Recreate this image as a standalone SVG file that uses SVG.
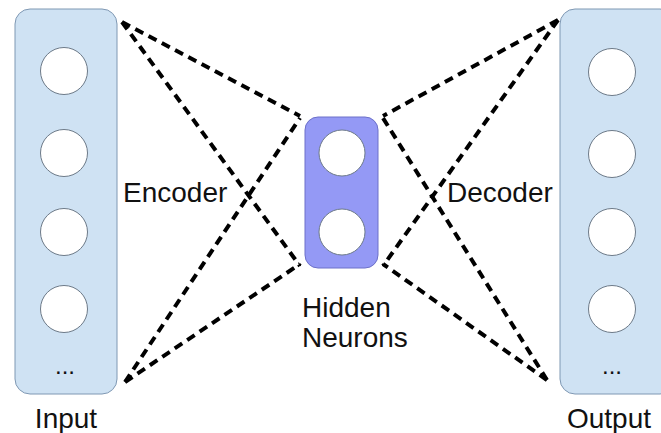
<svg xmlns="http://www.w3.org/2000/svg" width="661" height="433" viewBox="0 0 661 433">
<style>
.layer{fill:#cfe2f3;stroke:#7f98b3;stroke-width:1}
.hid{fill:#9499f5;stroke:#6c70c9;stroke-width:1}
.neuron{fill:#ffffff;stroke:#6d7a88;stroke-width:1}
.conn{fill:none;stroke:#000;stroke-width:4;stroke-dasharray:9 6}
text{font-family:"Liberation Sans",Arial,sans-serif;font-size:28px;fill:#111}
</style>
<rect width="661" height="433" fill="#fff"/>
<g id="connectors">
<line class="conn" x1="122" y1="22" x2="300" y2="116"/>
<line class="conn" x1="122" y1="22" x2="300" y2="266"/>
<line class="conn" x1="125" y1="382" x2="300" y2="118"/>
<line class="conn" x1="125" y1="382" x2="300" y2="264"/>
<line class="conn" x1="558" y1="20" x2="383" y2="116"/>
<line class="conn" x1="558" y1="20" x2="383" y2="266"/>
<line class="conn" x1="547" y1="380" x2="383" y2="118"/>
<line class="conn" x1="547" y1="380" x2="383" y2="264"/>
</g>
<g id="input">
<rect class="layer" x="15" y="9" width="102" height="385" rx="15"/>
<circle class="neuron" cx="64" cy="71" r="23.5"/>
<circle class="neuron" cx="64" cy="153" r="23.5"/>
<circle class="neuron" cx="64" cy="232" r="23.5"/>
<circle class="neuron" cx="64" cy="309" r="23.5"/>
<text x="65" y="374" text-anchor="middle" style="font-size:24px">...</text>
<text x="66" y="428" text-anchor="middle">Input</text>
</g>
<g id="hidden">
<rect class="hid" x="305" y="117" width="73" height="151" rx="13"/>
<circle class="neuron" cx="342" cy="153" r="23"/>
<circle class="neuron" cx="342" cy="232" r="23"/>
<text x="302" y="317">Hidden</text>
<text x="302" y="347">Neurons</text>
</g>
<g id="output">
<rect class="layer" x="560" y="9" width="115" height="385" rx="15"/>
<circle class="neuron" cx="612" cy="72" r="23.5"/>
<circle class="neuron" cx="612" cy="154" r="23.5"/>
<circle class="neuron" cx="612" cy="232" r="23.5"/>
<circle class="neuron" cx="612" cy="309" r="23.5"/>
<text x="612" y="374" text-anchor="middle" style="font-size:24px">...</text>
<text x="609" y="428" text-anchor="middle">Output</text>
</g>
<g id="labels">
<text x="123" y="202">Encoder</text>
<text x="447" y="202">Decoder</text>
</g>
</svg>
